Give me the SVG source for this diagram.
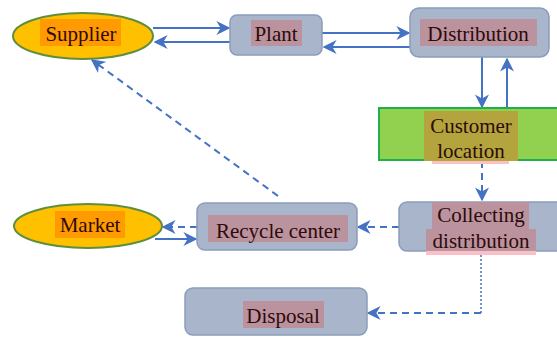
<svg xmlns="http://www.w3.org/2000/svg" width="557" height="337" viewBox="0 0 557 337">
<defs>
<style>
.box{fill:#A9B5CA;stroke:#8A9DBB;stroke-width:1.5}
.ell{fill:#FFC000;stroke:#5E8E3E;stroke-width:2}
.cust{fill:#92D050;stroke:#1DB04B;stroke-width:2}
.t{font-family:'Liberation Serif','Times New Roman','DejaVu Serif',serif;font-size:21px;fill:#2E0A0A;text-anchor:middle}
.hp{fill:#BA939E}
.ho{fill:#FF9A00}
.hg{fill:#B3A43E}
.hl{fill:#FBBFC6}
.c{stroke:#4472C4;stroke-width:2;fill:none}
.d{stroke-dasharray:7,5}
.dot{stroke-dasharray:2,2;stroke-width:1.5}
</style>
<marker id="ah" viewBox="0 0 10 10" refX="9" refY="5" markerWidth="7" markerHeight="7" orient="auto-start-reverse" markerUnits="strokeWidth">
<path d="M0,0 L10,5 L0,10 L3,5 z" fill="#4472C4"/>
</marker>
</defs>
<rect width="557" height="337" fill="#fff"/>
<g id="connectors">
<line class="c" x1="153" y1="28" x2="229" y2="28" marker-end="url(#ah)"/>
<line class="c" x1="230" y1="42" x2="155" y2="42" marker-end="url(#ah)"/>
<line class="c" x1="322" y1="33" x2="409" y2="33" marker-end="url(#ah)"/>
<line class="c" x1="410" y1="47" x2="324" y2="47" marker-end="url(#ah)"/>
<line class="c" x1="482" y1="57" x2="482" y2="107" marker-end="url(#ah)"/>
<line class="c" x1="507" y1="108" x2="507" y2="59" marker-end="url(#ah)"/>
<line class="c d" x1="482" y1="161" x2="482" y2="200" marker-end="url(#ah)"/>
<line class="c d" x1="399" y1="227" x2="358" y2="227" marker-end="url(#ah)"/>
<line class="c d" x1="197" y1="227" x2="163" y2="227" marker-end="url(#ah)"/>
<line class="c" x1="155" y1="239" x2="196" y2="239" marker-end="url(#ah)"/>
<line class="c d" x1="278" y1="196" x2="92" y2="60" marker-end="url(#ah)"/>
<polyline class="c dot" points="481,251 481,313"/>
<line class="c d" x1="481" y1="313" x2="368" y2="313" marker-end="url(#ah)"/>
</g>
<g id="supplier">
<ellipse class="ell" cx="83" cy="36" rx="70" ry="23"/>
<rect class="ho" x="40" y="19" width="81" height="27"/>
<text class="t" x="81" y="41" font-family="Liberation Serif, DejaVu Serif, serif">Supplier</text>
</g>
<g id="plant">
<rect class="box" x="230" y="15" width="92" height="40" rx="7"/>
<rect class="hp" x="251" y="20" width="51" height="26"/>
<text class="t" x="276" y="41" font-family="Liberation Serif, DejaVu Serif, serif">Plant</text>
</g>
<g id="distribution">
<rect class="box" x="410" y="8" width="139" height="49" rx="9"/>
<rect class="hp" x="420" y="19" width="117" height="27"/>
<text class="t" x="478" y="41" font-family="Liberation Serif, DejaVu Serif, serif">Distribution</text>
</g>
<g id="customer">
<rect class="cust" x="379" y="108" width="185" height="52"/>
<rect class="hg" x="424" y="111" width="94" height="50"/>
<rect class="hl" x="432" y="161" width="77" height="3"/>
<text class="t" x="471" y="133" font-family="Liberation Serif, DejaVu Serif, serif">Customer</text>
<text class="t" x="471" y="158" font-family="Liberation Serif, DejaVu Serif, serif">location</text>
</g>
<g id="collecting">
<rect class="box" x="399" y="202" width="170" height="49" rx="8"/>
<rect class="hp" x="432" y="202" width="97" height="27"/>
<rect class="hp" x="426" y="229" width="110" height="26"/>
<rect class="hl" x="426" y="251" width="110" height="4"/>
<text class="t" x="481" y="222" font-family="Liberation Serif, DejaVu Serif, serif">Collecting</text>
<text class="t" x="481" y="248" font-family="Liberation Serif, DejaVu Serif, serif">distribution</text>
</g>
<g id="recycle">
<rect class="box" x="197" y="203" width="160" height="47" rx="8"/>
<rect class="hp" x="208" y="215" width="140" height="27"/>
<text class="t" x="278" y="238" font-family="Liberation Serif, DejaVu Serif, serif">Recycle center</text>
</g>
<g id="market">
<ellipse class="ell" cx="88" cy="226" rx="74" ry="22"/>
<rect class="ho" x="55" y="211" width="70" height="27"/>
<text class="t" x="90" y="232" font-family="Liberation Serif, DejaVu Serif, serif">Market</text>
</g>
<g id="disposal">
<rect class="box" x="185" y="288" width="182" height="47" rx="8"/>
<rect class="hp" x="243" y="301" width="81" height="27"/>
<text class="t" x="283" y="323" font-family="Liberation Serif, DejaVu Serif, serif">Disposal</text>
</g>
</svg>
